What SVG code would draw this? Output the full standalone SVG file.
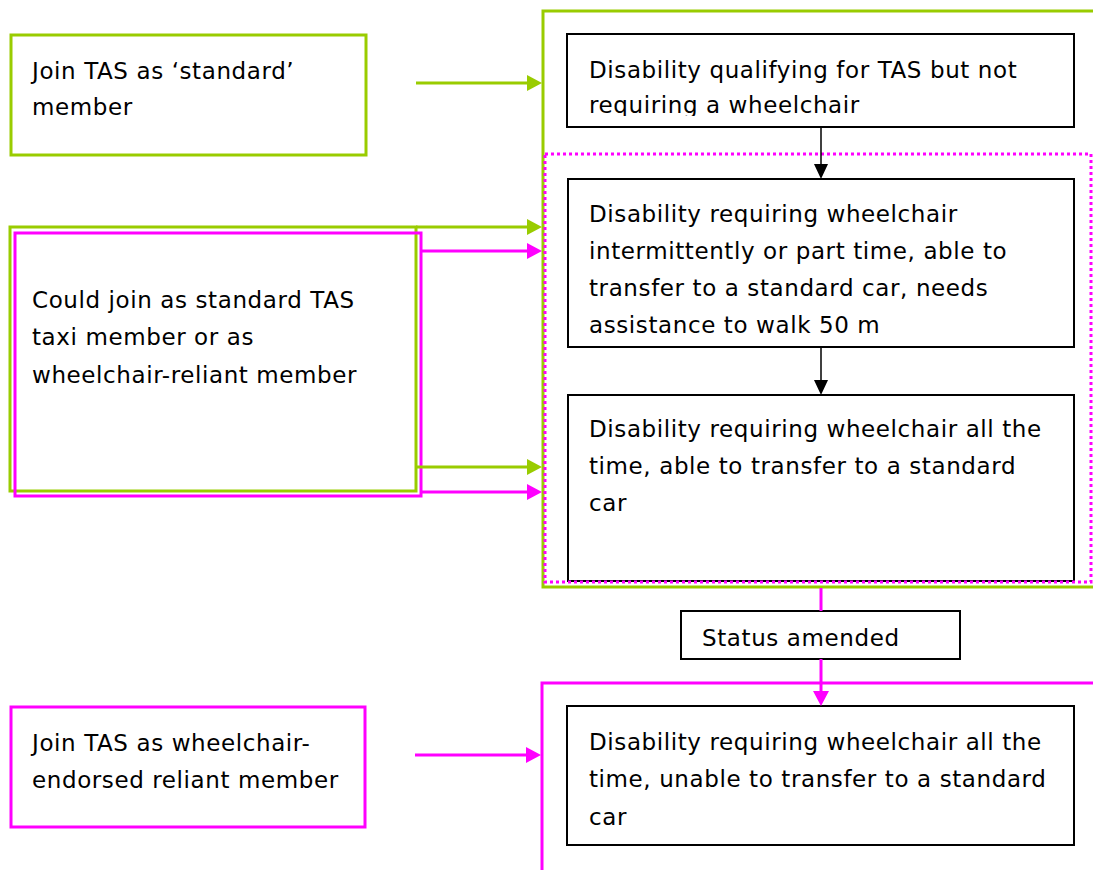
<svg xmlns="http://www.w3.org/2000/svg" width="1093" height="870" viewBox="0 0 1093 870">
<style>
.t{font-family:"DejaVu Sans",Verdana,sans-serif;font-size:23px;fill:#000;letter-spacing:0.6px}
.g{fill:#fff;stroke:#99cc00;stroke-width:3}
.m{fill:#fff;stroke:#ff00ff;stroke-width:3}
.k{fill:#fff;stroke:#000;stroke-width:2}
.gl{stroke:#99cc00;stroke-width:3;fill:none}
.ml{stroke:#ff00ff;stroke-width:3;fill:none}
.kl{stroke:#000;stroke-width:1.5;fill:none}
</style>
<defs>
<marker id="ag" markerUnits="userSpaceOnUse" markerWidth="16" markerHeight="18" refX="0" refY="9" orient="auto" overflow="visible"><path d="M0,1 L15,9 L0,17 z" fill="#99cc00"/></marker>
<marker id="am" markerUnits="userSpaceOnUse" markerWidth="16" markerHeight="18" refX="0" refY="9" orient="auto" overflow="visible"><path d="M0,1 L15,9 L0,17 z" fill="#ff00ff"/></marker>
<marker id="ak" markerUnits="userSpaceOnUse" markerWidth="16" markerHeight="16" refX="0" refY="8" orient="auto" overflow="visible"><path d="M0,1 L15,8 L0,15 z" fill="#000"/></marker>
<clipPath id="c1"><rect x="567" y="34" width="507" height="82"/></clipPath>
</defs>

<g id="group-green">
<rect class="g" x="543" y="11" width="600" height="576"/>
</g>
<g id="group-magenta-bottom">
<rect class="m" x="542" y="683" width="600" height="250"/>
</g>

<g id="node-standard">
<rect class="g" x="11" y="35" width="355" height="120"/>
<text class="t" x="32" y="79">Join TAS as ‘standard’</text>
<text class="t" x="32" y="115">member</text>
</g>

<g id="node-could-join">
<rect class="g" x="10" y="227" width="406" height="264"/>
<rect class="m" x="15" y="233" width="406" height="263" style="fill:none"/>
<text class="t" x="32" y="308">Could join as standard TAS</text>
<text class="t" x="32" y="345">taxi member or as</text>
<text class="t" x="32" y="383">wheelchair-reliant member</text>
</g>

<g id="node-wheelchair-endorsed">
<rect class="m" x="11" y="707" width="354" height="120"/>
<text class="t" x="32" y="751">Join TAS as wheelchair-</text>
<text class="t" x="32" y="788">endorsed reliant member</text>
</g>

<g id="node-not-requiring">
<rect class="k" x="567" y="34" width="507" height="93"/>
<g clip-path="url(#c1)">
<text class="t" x="589" y="78">Disability qualifying for TAS but not</text>
<text class="t" x="589" y="113">requiring a wheelchair</text>
</g>
</g>

<g id="node-intermittent">
<rect class="k" x="568" y="179" width="506" height="168"/>
<text class="t" x="589" y="222">Disability requiring wheelchair</text>
<text class="t" x="589" y="259">intermittently or part time, able to</text>
<text class="t" x="589" y="296">transfer to a standard car, needs</text>
<text class="t" x="589" y="333">assistance to walk 50 m</text>
</g>

<g id="node-all-time-able">
<rect class="k" x="568" y="395" width="506" height="186"/>
<text class="t" x="589" y="437">Disability requiring wheelchair all the</text>
<text class="t" x="589" y="474">time, able to transfer to a standard</text>
<text class="t" x="589" y="511">car</text>
</g>

<g id="group-magenta-dotted">
<rect x="545" y="154" width="546" height="428" fill="none" stroke="#ff00ff" stroke-width="3" stroke-dasharray="3 3"/>
</g>

<g id="node-status">
<rect class="k" x="681" y="611" width="279" height="48"/>
<text class="t" x="702" y="646">Status amended</text>
</g>

<g id="node-all-time-unable">
<rect class="k" x="567" y="706" width="507" height="139"/>
<text class="t" x="589" y="750">Disability requiring wheelchair all the</text>
<text class="t" x="589" y="787">time, unable to transfer to a standard</text>
<text class="t" x="589" y="825">car</text>
</g>

<g id="connectors">
<line class="gl" x1="416" y1="83" x2="527" y2="83" marker-end="url(#ag)"/>
<line class="gl" x1="416" y1="227" x2="527" y2="227" marker-end="url(#ag)"/>
<line class="gl" x1="416" y1="467" x2="527" y2="467" marker-end="url(#ag)"/>
<line class="ml" x1="421" y1="251" x2="527" y2="251" marker-end="url(#am)"/>
<line class="ml" x1="421" y1="492" x2="527" y2="492" marker-end="url(#am)"/>
<line class="ml" x1="415" y1="755" x2="526" y2="755" marker-end="url(#am)"/>
<line class="ml" x1="821" y1="588" x2="821" y2="611"/>
<line class="ml" x1="821" y1="659" x2="821" y2="691" marker-end="url(#am)"/>
<line class="kl" x1="821" y1="128" x2="821" y2="164" marker-end="url(#ak)"/>
<line class="kl" x1="821" y1="348" x2="821" y2="380" marker-end="url(#ak)"/>
</g>
</svg>
